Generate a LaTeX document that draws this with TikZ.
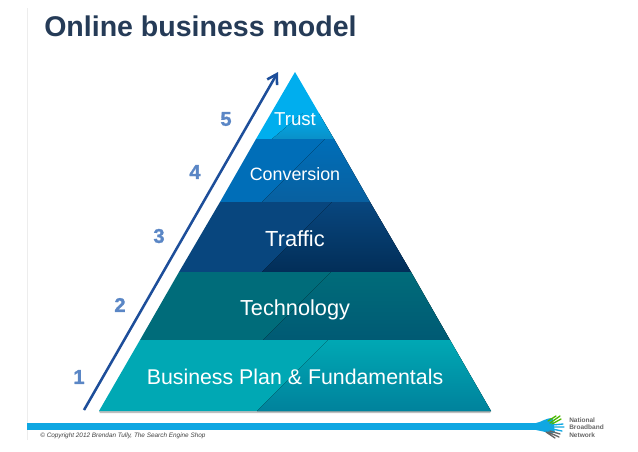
\documentclass[tikz,border=0pt]{standalone}
\usepackage{fontspec}
\setmainfont{Liberation Sans}
\newfontfamily\numfont[BoldFeatures={FakeBold=1.5}]{Liberation Sans}
\usetikzlibrary{arrows.meta, calc}

\definecolor{titleblue}{HTML}{253B57}
\definecolor{arrowblue}{HTML}{1D4E9A}
\definecolor{numblue}{HTML}{5A86C5}
\definecolor{barblue}{HTML}{0FA7E2}
\definecolor{trustA}{HTML}{00AEEE}
\definecolor{trustB}{HTML}{0A90C8}
\definecolor{convA}{HTML}{006EB8}
\definecolor{convB}{HTML}{0860A0}
\definecolor{trafA}{HTML}{08467E}
\definecolor{trafB}{HTML}{022E58}
\definecolor{techA}{HTML}{006C7A}
\definecolor{techB}{HTML}{005A74}
\definecolor{bizA}{HTML}{00A8B4}
\definecolor{bizB}{HTML}{00829C}

\begin{document}
\begin{tikzpicture}[
      x=0.75pt, y=-0.75pt,
      layerlabel/.style={text=white, anchor=center, inner sep=0pt},
      stepnum/.style={text=numblue, font=\numfont\bfseries\fontsize{15}{15}\selectfont, inner sep=0pt},
      climb/.style={-{Straight Barb[length=7pt, width=8.5pt]}, line width=1.9pt, draw=arrowblue},
      logoline/.style={line width=1pt, line cap=round}
    ]
      \useasboundingbox (0,0) rectangle (638,451);

      % Page edge
      \draw[black!7] (27.5,8) -- (27.5,440);

      % Title
      \node[anchor=west, inner sep=0pt, text=titleblue, font=\bfseries\fontsize{21.4}{24}\selectfont] (title) at (44,26) {Online business model};

      % Soft line under the base
      \fill[black!25] (99,411) -- (491,411) -- (490,413) -- (100,413) -- cycle;

      % Layer 5: Trust
      \fill[trustA] (295,72) -- (334,139) -- (256,139) -- cycle;
      \fill[top color=trustA, bottom color=trustB] (272,139) -- (303,113) -- (318.7,113) -- (334,139) -- cycle;

      % Layer 4: Conversion
      \fill[convA] (256,139) -- (334,139) -- (370,202) -- (220,202) -- cycle;
      \fill[top color=convA, middle color=convA, bottom color=convB] (262,202) -- (325,139) -- (334,139) -- (370,202) -- cycle;

      % Layer 3: Traffic
      \fill[trafA] (220,202) -- (370,202) -- (411,272) -- (179,272) -- cycle;
      \fill[top color=trafA, bottom color=trafB] (262,272) -- (332,202) -- (370,202) -- (411,272) -- cycle;

      % Layer 2: Technology
      \fill[techA] (179,272) -- (411,272) -- (450,340) -- (140,340) -- cycle;
      \fill[top color=techA, middle color=techA, bottom color=techB] (263,340) -- (331,272) -- (411,272) -- (450,340) -- cycle;

      % Layer 1: Business plan
      \fill[bizA] (140,340) -- (450,340) -- (491,411) -- (99,411) -- cycle;
      \fill[top color=bizA, bottom color=bizB] (257,411) -- (328,340) -- (450,340) -- (491,411) -- cycle;

      % Layer labels
      \node[layerlabel, font=\fontsize{14}{16}\selectfont] (trust) at (295,119) {Trust};
      \node[layerlabel, font=\fontsize{13.4}{15}\selectfont] (conversion) at (295,174) {Conversion};
      \node[layerlabel, font=\fontsize{16.4}{18}\selectfont] (traffic) at (295,239) {Traffic};
      \node[layerlabel, font=\fontsize{16.3}{18}\selectfont] (technology) at (295,309.5) {Technology};
      \node[layerlabel, font=\fontsize{16}{18}\selectfont] (business) at (295,377) {Business Plan \& Fundamentals};

      % Rising arrow
      \coordinate (climbstart) at (84,410);
      \coordinate (climbend) at (278,72);
      \draw[climb] (climbstart) -- (climbend);

      % Step numbers
      \node[stepnum] (one) at (79,377) {1};
      \node[stepnum] (two) at (120,305) {2};
      \node[stepnum] (three) at (159,236) {3};
      \node[stepnum] (four) at (195,172) {4};
      \node[stepnum] (five) at (226,119) {5};

      % Footer bar and logo
      \fill[barblue] (27,423) rectangle (540,430);
      \fill[barblue] (536,423) .. controls (542,422) and (545,418) .. (553,418) -- (555,433) .. controls (547,433) and (542,431) .. (536,430) -- cycle;
      \draw[logoline, green!60!black!70!yellow] (548,421) -- (556,416) (550,423) -- (560,416) (552,424) -- (561,419);
      \draw[logoline, barblue] (552,425) -- (563,424) (552,427) -- (564,427) (552,429) -- (562,431);
      \draw[logoline, black!60] (550,431) -- (560,434) (548,432) -- (559,437) (546,432) -- (555,438);
      \node[anchor=west, align=left, inner sep=0pt, text=black!60, font=\bfseries\fontsize{4.9}{5.4}\selectfont] (network) at (569,427.5) {National\\Broadband\\Network};

      % Copyright
      \node[anchor=west, inner sep=0pt, text=black!75, font=\itshape\fontsize{4.8}{6}\selectfont] (copyright) at (40,436) {© Copyright 2012 Brendan Tully, The Search Engine Shop};
    \end{tikzpicture}
\end{document}
